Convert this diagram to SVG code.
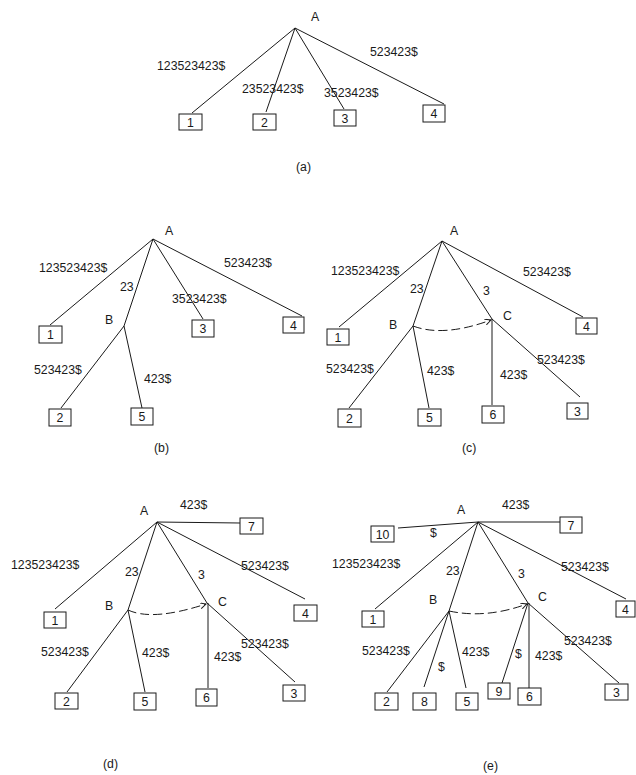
<svg xmlns="http://www.w3.org/2000/svg" width="636" height="775" viewBox="0 0 636 775">
<style>
text{font-family:"Liberation Sans",Arial,sans-serif;font-size:12.3px;fill:#1a1a1a}
.c line,.c path{stroke:#1a1a1a;stroke-width:1;fill:none}
.c .d{stroke-dasharray:9,4}
rect{fill:#fff;stroke:#1a1a1a;stroke-width:1}
.n text{text-anchor:middle}
</style>
<defs>
<marker id="ah" markerWidth="8" markerHeight="8" refX="6" refY="3" orient="auto" markerUnits="userSpaceOnUse">
<path d="M0,0 L6,3 L0,6" fill="none" stroke="#1a1a1a" stroke-width="1"/>
</marker>
</defs>
<rect x="0" y="0" width="636" height="775" style="fill:#fff;stroke:none"/>

<!-- (a) -->
<g class="c" id="edges-a">
<line x1="295" y1="28" x2="192" y2="113"/>
<line x1="295" y1="28" x2="266" y2="112"/>
<line x1="295" y1="28" x2="344" y2="109"/>
<line x1="295" y1="28" x2="444" y2="104"/>
</g>
<g id="a-A"><text x="311" y="21">A</text></g>
<g class="n" id="a-1"><rect x="179" y="114" width="23" height="16"/><text x="190.5" y="126.5">1</text></g>
<g class="n" id="a-2"><rect x="253" y="114" width="23" height="16"/><text x="264.5" y="126.5">2</text></g>
<g class="n" id="a-3"><rect x="334" y="110" width="22" height="16"/><text x="345" y="122.5">3</text></g>
<g class="n" id="a-4"><rect x="423" y="105" width="22" height="17"/><text x="434" y="118">4</text></g>
<g id="a-labels">
<text x="157" y="70">123523423$</text>
<text x="242" y="93">23523423$</text>
<text x="324" y="97">3523423$</text>
<text x="370" y="56">523423$</text>
<text x="296" y="171">(a)</text>
</g>

<!-- (b) -->
<g class="c" id="edges-b">
<line x1="153" y1="239" x2="50" y2="325"/>
<line x1="153" y1="239" x2="124" y2="326"/>
<line x1="153" y1="239" x2="203" y2="319"/>
<line x1="153" y1="239" x2="302" y2="316"/>
<line x1="124" y1="326" x2="61" y2="408"/>
<line x1="124" y1="326" x2="142" y2="408"/>
</g>
<g id="b-A"><text x="165" y="235">A</text></g>
<g id="b-B"><text x="105" y="324">B</text></g>
<g class="n" id="b-1"><rect x="39" y="326" width="23" height="17"/><text x="50.5" y="339">1</text></g>
<g class="n" id="b-3"><rect x="192" y="320" width="22" height="17"/><text x="203" y="333">3</text></g>
<g class="n" id="b-4"><rect x="283" y="317" width="21" height="16"/><text x="293.5" y="329.5">4</text></g>
<g class="n" id="b-2"><rect x="49" y="409" width="22" height="17"/><text x="60" y="422">2</text></g>
<g class="n" id="b-5"><rect x="131" y="408" width="22" height="17"/><text x="142" y="421">5</text></g>
<g id="b-labels">
<text x="120" y="291">23</text>
<text x="39" y="272">123523423$</text>
<text x="224" y="267">523423$</text>
<text x="172" y="303">3523423$</text>
<text x="34" y="374">523423$</text>
<text x="144" y="383">423$</text>
<text x="154" y="452">(b)</text>
</g>

<!-- (c) -->
<g class="c" id="edges-c">
<line x1="442" y1="241" x2="339" y2="327"/>
<line x1="442" y1="241" x2="413" y2="326"/>
<line x1="442" y1="241" x2="492" y2="319"/>
<line x1="442" y1="241" x2="583" y2="317"/>
<line x1="413" y1="326" x2="349" y2="408"/>
<line x1="413" y1="326" x2="429" y2="408"/>
<line x1="492" y1="319" x2="492" y2="405"/>
<line x1="492" y1="319" x2="580" y2="397"/>
<path class="d" d="M413,326 Q443.5,337.5 491,320" marker-end="url(#ah)"/>
</g>
<g id="c-A"><text x="450" y="235">A</text></g>
<g id="c-B"><text x="389" y="329">B</text></g>
<g id="c-C"><text x="503" y="320">C</text></g>
<g class="n" id="c-1"><rect x="327" y="329" width="22" height="16"/><text x="338" y="341.5">1</text></g>
<g class="n" id="c-4"><rect x="576" y="318" width="21" height="16"/><text x="586.5" y="330.5">4</text></g>
<g class="n" id="c-2"><rect x="338" y="409" width="23" height="18"/><text x="349.5" y="422.5">2</text></g>
<g class="n" id="c-5"><rect x="418" y="409" width="23" height="17"/><text x="429.5" y="422">5</text></g>
<g class="n" id="c-6"><rect x="482" y="406" width="22" height="17"/><text x="493" y="419">6</text></g>
<g class="n" id="c-3"><rect x="567" y="403" width="21" height="16"/><text x="577.5" y="415.5">3</text></g>
<g id="c-labels">
<text x="410" y="293">23</text>
<text x="483" y="295">3</text>
<text x="331" y="275">123523423$</text>
<text x="523" y="276">523423$</text>
<text x="326" y="373">523423$</text>
<text x="427" y="375">423$</text>
<text x="500" y="379">423$</text>
<text x="537" y="364">523423$</text>
<text x="462" y="452">(c)</text>
</g>

<!-- (d) -->
<g class="c" id="edges-d">
<line x1="157" y1="522" x2="240" y2="523"/>
<line x1="157" y1="522" x2="55" y2="609"/>
<line x1="157" y1="522" x2="128" y2="610"/>
<line x1="157" y1="522" x2="207" y2="603"/>
<line x1="157" y1="522" x2="305" y2="599"/>
<line x1="128" y1="610" x2="67" y2="692"/>
<line x1="128" y1="610" x2="145" y2="692"/>
<line x1="208" y1="603" x2="208" y2="688"/>
<line x1="207" y1="603" x2="295" y2="682"/>
<path class="d" d="M128,610 Q152.5,621.5 206,604" marker-end="url(#ah)"/>
</g>
<g id="d-A"><text x="140" y="515">A</text></g>
<g id="d-B"><text x="105" y="610">B</text></g>
<g id="d-C"><text x="218" y="606">C</text></g>
<g class="n" id="d-7"><rect x="240" y="518" width="23" height="16"/><text x="251.5" y="530.5">7</text></g>
<g class="n" id="d-1"><rect x="44" y="612" width="22" height="16"/><text x="55" y="624.5">1</text></g>
<g class="n" id="d-4"><rect x="294" y="605" width="23" height="16"/><text x="305.5" y="617.5">4</text></g>
<g class="n" id="d-2"><rect x="55" y="693" width="23" height="16"/><text x="66.5" y="705.5">2</text></g>
<g class="n" id="d-5"><rect x="134" y="693" width="22" height="17"/><text x="145" y="706">5</text></g>
<g class="n" id="d-6"><rect x="196" y="689" width="21" height="17"/><text x="206.5" y="702">6</text></g>
<g class="n" id="d-3"><rect x="283" y="685" width="22" height="16"/><text x="294" y="697.5">3</text></g>
<g id="d-labels">
<text x="180" y="509">423$</text>
<text x="11" y="569">123523423$</text>
<text x="125" y="576">23</text>
<text x="198" y="579">3</text>
<text x="241" y="570">523423$</text>
<text x="41" y="656">523423$</text>
<text x="142" y="657">423$</text>
<text x="214" y="661">423$</text>
<text x="241" y="648">523423$</text>
<text x="103" y="768">(d)</text>
</g>

<!-- (e) -->
<g class="c" id="edges-e">
<line x1="478" y1="522" x2="560" y2="522"/>
<line x1="478" y1="522" x2="398" y2="528"/>
<line x1="478" y1="522" x2="375" y2="609"/>
<line x1="478" y1="522" x2="449" y2="611"/>
<line x1="478" y1="522" x2="528" y2="603"/>
<line x1="478" y1="522" x2="626" y2="599"/>
<line x1="449" y1="611" x2="387" y2="692"/>
<line x1="449" y1="611" x2="424" y2="687"/>
<line x1="449" y1="611" x2="466" y2="688"/>
<line x1="528" y1="603" x2="502" y2="683"/>
<line x1="529" y1="603" x2="529" y2="688"/>
<line x1="528" y1="603" x2="619" y2="683"/>
<path class="d" d="M449,611 Q486,619 527,604" marker-end="url(#ah)"/>
</g>
<g id="e-A"><text x="457" y="514">A</text></g>
<g id="e-B"><text x="429" y="604">B</text></g>
<g id="e-C"><text x="538" y="601">C</text></g>
<g class="n" id="e-7"><rect x="560" y="517" width="22" height="16"/><text x="571" y="529.5">7</text></g>
<g class="n" id="e-10"><rect x="371" y="526" width="23" height="16"/><text x="382.5" y="538.5">10</text></g>
<g class="n" id="e-1"><rect x="362" y="611" width="22" height="16"/><text x="373" y="623.5">1</text></g>
<g class="n" id="e-4"><rect x="616" y="601" width="19" height="16"/><text x="625.5" y="613.5">4</text></g>
<g class="n" id="e-2"><rect x="375" y="693" width="23" height="17"/><text x="386.5" y="706">2</text></g>
<g class="n" id="e-8"><rect x="413" y="693" width="23" height="17"/><text x="424.5" y="706">8</text></g>
<g class="n" id="e-5"><rect x="456" y="693" width="22" height="17"/><text x="467" y="706">5</text></g>
<g class="n" id="e-9"><rect x="488" y="683" width="22" height="16"/><text x="499" y="695.5">9</text></g>
<g class="n" id="e-6"><rect x="518" y="688" width="23" height="17"/><text x="529.5" y="701">6</text></g>
<g class="n" id="e-3"><rect x="605" y="684" width="23" height="16"/><text x="616.5" y="696.5">3</text></g>
<g id="e-labels">
<text x="502" y="509">423$</text>
<text x="430" y="537">$</text>
<text x="332" y="568">123523423$</text>
<text x="446" y="575">23</text>
<text x="518" y="578">3</text>
<text x="561" y="571">523423$</text>
<text x="362" y="655">523423$</text>
<text x="438" y="671">$</text>
<text x="462" y="656">423$</text>
<text x="515" y="658">$</text>
<text x="535" y="660">423$</text>
<text x="564" y="645">523423$</text>
<text x="483" y="770">(e)</text>
</g>
</svg>
